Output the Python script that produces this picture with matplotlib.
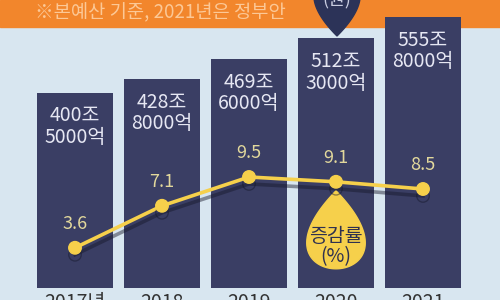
import matplotlib
matplotlib.use('Agg')
import matplotlib.pyplot as plt
import matplotlib.patheffects as pe
import matplotlib.transforms as mtransforms
from matplotlib.patches import Rectangle, Polygon
import numpy as np

plt.rcParams['font.family'] = ['Noto Sans CJK KR', 'DejaVu Sans']

# 데이터 (본예산, 조원 / 증감률 %)
years = ['2017년', '2018', '2019', '2020', '2021']
budget = [400.5, 428.8, 469.6, 512.3, 555.8]
budget_labels = ['400조\n5000억', '428조\n8000억', '469조\n6000억', '512조\n3000억', '555조\n8000억']
growth = [3.6, 7.1, 9.5, 9.1, 8.5]

navy = '#3a3e64'
yellow = '#f6d04b'
bg = '#d8e6f0'
orange = '#f2862c'


def drop(a, b, m=1.0, n=200):
    # 물방울 모양 (꼭지점이 원점, 아래로 몸통)
    t = np.linspace(0, 2 * np.pi, n)
    xs = a * np.sin(t) * np.sin(t / 2) ** m
    ys = -b + b * np.cos(t)
    return np.column_stack([xs, ys])


fig = plt.figure(figsize=(5, 3), dpi=100, facecolor=bg)
fig.add_artist(Rectangle((0, 0.91), 1, 0.09, transform=fig.transFigure,
                         color=orange, zorder=-1))
fig.text(0.07, 0.958, '※본예산 기준, 2021년은 정부안', color='#fcc896',
         fontsize=13.5, va='center', fontweight='light')

# 상단 말풍선
px = mtransforms.Affine2D().scale(0.01) + fig.dpi_scale_trans
bubble = drop(30, 30) * [1, -1] + [337, 264]
fig.add_artist(Polygon(bubble, closed=True, transform=px, color='#2c3358', zorder=2))
fig.text(337 / 500, 292 / 300, '(원)', color='#c8cce0', fontsize=13,
         ha='center', va='bottom', zorder=3)

# 막대 (예산)
ax = fig.add_axes([0.063, 0.04, 0.87, 0.96])
ax.set_facecolor('none')
x = np.arange(len(years))
ax.bar(x, budget, width=0.874, color=navy)
ax.set_xlim(-0.5, 4.5)
ax.set_ylim(0, 591)
for s in ax.spines.values():
    s.set_visible(False)
ax.set_yticks([])
ax.set_xticks(x, years)
ax.tick_params(axis='x', length=0, pad=3, labelsize=14, labelcolor='#333333')
for i in range(len(x)):
    ax.annotate(budget_labels[i], (i, budget[i]), xytext=(0, -9),
                textcoords='offset points', ha='center', va='top',
                fontsize=14, color='#e6e7f3', linespacing=1.05, fontweight='light')

# 선 (증감률)
ax2 = ax.twinx()
ax2.set_ylim(0.25, 24.25)
ax2.set_axis_off()
ax2.plot(x, growth, color=yellow, lw=2.6, marker='o', ms=9, zorder=3,
         path_effects=[pe.SimpleLineShadow(offset=(0, -5), shadow_color='#15172a', alpha=0.45),
                       pe.Normal()])
for i in range(len(x)):
    ax2.annotate(f'{growth[i]}', (i, growth[i]), xytext=(0, 24),
                 textcoords='offset pixels', ha='center', va='center',
                 fontsize=13, color='#e2d89c', fontweight='light')

# 증감률 물방울
tr = px + mtransforms.ScaledTranslation(3, growth[3], ax2.transData)
ax2.add_patch(Polygon(drop(38, 39) + [0, -9], closed=True, transform=tr,
                      color=yellow, zorder=2, clip_on=False))
ax2.annotate('증감률\n(%)', (3, growth[3]), xytext=(0, -65), textcoords='offset pixels',
             ha='center', va='center', fontsize=14, color='#2f3150', linespacing=0.95)

fig.savefig('out.png', dpi=100, facecolor=bg)
